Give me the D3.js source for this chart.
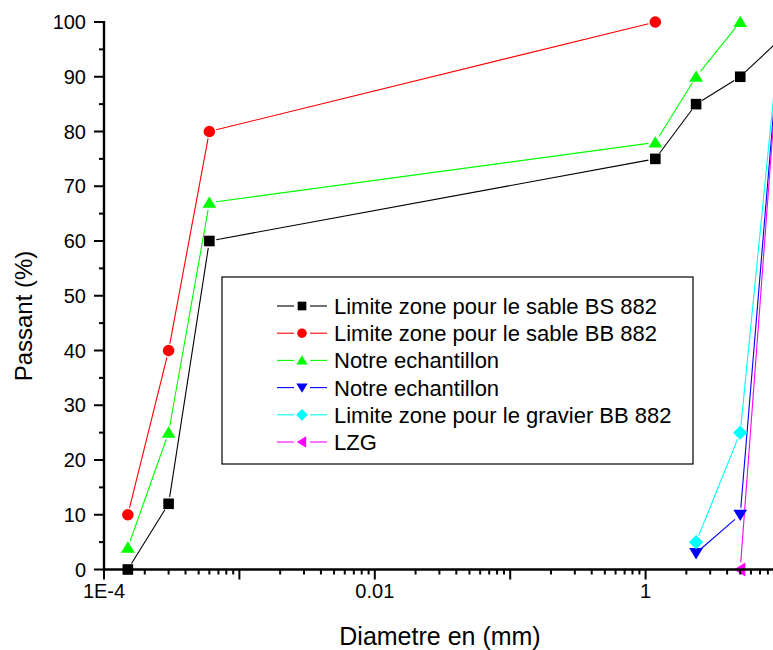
<!DOCTYPE html>
<html>
<head>
<meta charset="utf-8">
<script src="https://cdn.jsdelivr.net/npm/d3@7"></script>
<style>
  html, body { margin: 0; padding: 0; background: #fff; }
  svg { display: block; font-family: "Liberation Sans", Arial, sans-serif; }
</style>
</head>
<body>
<svg id="chart" width="773" height="650"></svg>
<script>
// Sieve sizes (mm) and percentage passing for each curve
const sandSizes = [0.00015, 0.0003, 0.0006, 1.18, 2.36, 5, 10];
const sandBS882 = [0, 12, 60, 75, 85, 90, 97];
const sandBB882Sizes = [0.00015, 0.0003, 0.0006, 1.18];
const sandBB882 = [10, 40, 80, 100];
const sampleSandSizes = [0.00015, 0.0003, 0.0006, 1.18, 2.36, 5];
const sampleSand = [4, 25, 67, 78, 90, 100];
const gravelSizes = [2.36, 5, 10];
const sampleGravel = [3, 10, 100];
const gravelBB882 = [5, 25, 100];
const lzgSizes = [5, 10];
const lzg = [0, 100];

const seriesNames = [
  "Limite zone pour le sable BS 882",
  "Limite zone pour le sable BB 882",
  "Notre echantillon",
  "Notre echantillon",
  "Limite zone pour le gravier BB 882",
  "LZG"
];
const xTickLabels = ["1E-4", "0.01", "1"];
const yTicks = [0, 10, 20, 30, 40, 50, 60, 70, 80, 90, 100];

const series = [
  { name: seriesNames[0], xs: sandSizes, ys: sandBS882, color: "#000000", symbol: "square" },
  { name: seriesNames[1], xs: sandBB882Sizes, ys: sandBB882, color: "#ff0000", symbol: "circle" },
  { name: seriesNames[2], xs: sampleSandSizes, ys: sampleSand, color: "#00ff00", symbol: "triUp" },
  { name: seriesNames[3], xs: gravelSizes, ys: sampleGravel, color: "#0000ff", symbol: "triDown" },
  { name: seriesNames[4], xs: gravelSizes, ys: gravelBB882, color: "#00ffff", symbol: "diamond" },
  { name: seriesNames[5], xs: lzgSizes, ys: lzg, color: "#ff00ff", symbol: "triLeft" }
];

const svg = d3.select("#chart");
const plotLeft = 104, plotRight = 781, plotTop = 22, plotBottom = 569.5;

const x = d3.scaleLog().domain([1e-4, 10]).range([plotLeft, plotRight]);
const y = d3.scaleLinear().domain([0, 100]).range([plotBottom, plotTop]);

// Marker shapes
function symbolPath(type, r) {
  switch (type) {
    case "square": return `M${-r},${-r}H${r}V${r}H${-r}Z`;
    case "circle": return d3.symbol(d3.symbolCircle, Math.PI * r * r)();
    case "triUp": return `M0,${-r * 1.05}L${r * 1.15},${r * 0.85}L${-r * 1.15},${r * 0.85}Z`;
    case "triDown": return `M0,${r * 1.05}L${r * 1.15},${-r * 0.85}L${-r * 1.15},${-r * 0.85}Z`;
    case "triLeft": return `M${-r * 1.05},0L${r * 0.85},${-r * 1.15}L${r * 0.85},${r * 1.15}Z`;
    case "diamond": return `M0,${-r * 1.3}L${r * 1.3},0L0,${r * 1.3}L${-r * 1.3},0Z`;
  }
}
const markerR = { square: 5.3, circle: 5.8, triUp: 6, triDown: 6, triLeft: 6, diamond: 5.5 };

const plot = svg.append("g");

// Connecting lines with small gaps around each marker
series.forEach(s => {
  const pts = s.xs.map((v, i) => [x(v), y(s.ys[i])]);
  const gap = 7;
  for (let i = 0; i < pts.length - 1; i++) {
    const [x0, y0] = pts[i], [x1, y1] = pts[i + 1];
    const len = Math.hypot(x1 - x0, y1 - y0);
    if (len <= 2 * gap) continue;
    const ux = (x1 - x0) / len, uy = (y1 - y0) / len;
    plot.append("line")
      .attr("x1", x0 + ux * gap).attr("y1", y0 + uy * gap)
      .attr("x2", x1 - ux * gap).attr("y2", y1 - uy * gap)
      .attr("stroke", s.color).attr("stroke-width", 1.1);
  }
});

series.forEach(s => {
  plot.selectAll(null)
    .data(s.xs.map((v, i) => [v, s.ys[i]]))
    .enter().append("path")
    .attr("d", symbolPath(s.symbol, markerR[s.symbol]))
    .attr("transform", d => `translate(${x(d[0])},${y(d[1])})`)
    .attr("fill", s.color);
});

// Y axis
const yAxis = svg.append("g").attr("transform", `translate(${plotLeft},0)`);
yAxis.append("line").attr("x1", 0).attr("x2", 0).attr("y1", plotTop - 1).attr("y2", plotBottom + 1)
  .attr("stroke", "#000").attr("stroke-width", 2.4);
d3.range(0, 101, 5).forEach(v => {
  const major = v % 10 === 0;
  yAxis.append("line").attr("x1", major ? -10 : -5).attr("x2", 0)
    .attr("y1", y(v)).attr("y2", y(v)).attr("stroke", "#000").attr("stroke-width", 2);
});
yAxis.selectAll("text.yt").data(yTicks).enter().append("text")
  .attr("x", -18).attr("y", d => y(d)).attr("dy", "0.35em")
  .attr("text-anchor", "end").attr("font-size", 20).text(d => d);

// X axis (log, major ticks every decade, labels every two decades)
const xAxis = svg.append("g").attr("transform", `translate(0,${plotBottom})`);
xAxis.append("line").attr("x1", plotLeft - 1).attr("x2", 773).attr("y1", 0).attr("y2", 0)
  .attr("stroke", "#000").attr("stroke-width", 2.4);
const decades = [1e-4, 1e-3, 1e-2, 1e-1, 1];
decades.forEach(d => {
  xAxis.append("line").attr("x1", x(d)).attr("x2", x(d)).attr("y1", 0).attr("y2", 10)
    .attr("stroke", "#000").attr("stroke-width", 2);
  for (let k = 2; k <= 9; k++) {
    const v = d * k;
    if (x(v) > 773) break;
    xAxis.append("line").attr("x1", x(v)).attr("x2", x(v)).attr("y1", 0).attr("y2", 5)
      .attr("stroke", "#000").attr("stroke-width", 2);
  }
});
const labelVals = [1e-4, 1e-2, 1];
xAxis.selectAll("text.xt").data(labelVals).enter().append("text")
  .attr("x", d => x(d)).attr("y", 28)
  .attr("text-anchor", "middle").attr("font-size", 20)
  .text((d, i) => xTickLabels[i]);

// Axis titles
svg.append("text").attr("x", 440).attr("y", 645).attr("text-anchor", "middle")
  .attr("font-size", 25).text("Diametre en (mm)");
svg.append("text").attr("transform", "translate(32,316) rotate(-90)")
  .attr("text-anchor", "middle").attr("font-size", 24).text("Passant (%)");

// Legend
const lg = svg.append("g");
lg.append("rect").attr("x", 222).attr("y", 277).attr("width", 471).attr("height", 187)
  .attr("fill", "#fff").attr("stroke", "#000").attr("stroke-width", 1.2);
series.forEach((s, i) => {
  const cy = 306 + i * 27.2;
  lg.append("line").attr("x1", 277).attr("x2", 294).attr("y1", cy).attr("y2", cy)
    .attr("stroke", s.color).attr("stroke-width", 1.1);
  lg.append("line").attr("x1", 310).attr("x2", 327).attr("y1", cy).attr("y2", cy)
    .attr("stroke", s.color).attr("stroke-width", 1.1);
  lg.append("path").attr("d", symbolPath(s.symbol, markerR[s.symbol] * 0.82))
    .attr("transform", `translate(302,${cy})`).attr("fill", s.color);
  lg.append("text").attr("x", 334).attr("y", cy).attr("dy", "0.36em")
    .attr("font-size", 22).text(s.name);
});
</script>
</body>
</html>
